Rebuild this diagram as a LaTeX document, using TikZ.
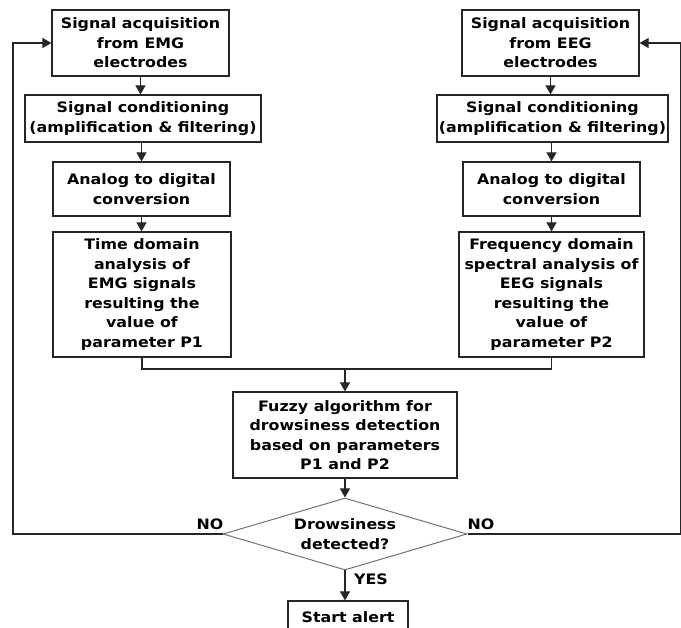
\documentclass[tikz,border=0pt]{standalone}
\usepackage{fontspec}
\setmainfont{DejaVu Sans}[FakeStretch=1.1]
\usetikzlibrary{shapes.geometric,arrows.meta}
\begin{document}
\begin{tikzpicture}[x=1pt,y=-1pt,
  every node/.style={font=\bfseries\fontsize{14.4}{19.5}\selectfont},
  box/.style={draw=black!85,line width=1.2pt,rectangle,align=center,inner sep=0pt},
  dec/.style={draw=black!55,line width=1pt,diamond,aspect=3.4,align=center,inner sep=0pt},
  lbl/.style={inner sep=0pt},
  link/.style={draw=black!85,line width=1.2pt},
  arr/.style={link,-{Triangle[length=9pt,width=10pt]}}]
\useasboundingbox (0,0) rectangle (681,628);
\node[box,minimum width=177pt,minimum height=66pt] (l1) at (140.5,43) {Signal acquisition\\from EMG\\electrodes};
\node[box,minimum width=236pt,minimum height=47pt] (l2) at (143,118.5) {Signal conditioning\\(amplification \& filtering)};
\node[box,minimum width=177pt,minimum height=54pt] (l3) at (141.5,189) {Analog to digital\\conversion};
\node[box,minimum width=178pt,minimum height=125pt] (l4) at (142,294.5) {Time domain\\analysis of\\EMG signals\\resulting the\\value of\\parameter P1};
\node[box,minimum width=177pt,minimum height=66pt] (r1) at (550.5,43) {Signal acquisition\\from EEG\\electrodes};
\node[box,minimum width=231pt,minimum height=47pt] (r2) at (552.5,118.5) {Signal conditioning\\(amplification \& filtering)};
\node[box,minimum width=177pt,minimum height=54pt] (r3) at (551.5,189) {Analog to digital\\conversion};
\node[box,minimum width=185pt,minimum height=125pt] (r4) at (551.5,294.5) {Frequency domain\\spectral analysis of\\EEG signals\\resulting the\\value of\\parameter P2};
\node[box,minimum width=224pt,minimum height=86pt] (fz) at (345,435) {Fuzzy algorithm for\\drowsiness detection\\based on parameters\\P1 and P2};
\node[dec,minimum width=244pt,minimum height=72pt] (dd) at (345,534) {Drowsiness\\detected?};
\node[box,minimum width=120pt,minimum height=32pt] (sa) at (348,617) {Start alert};
\node[lbl] (no1) at (210,524) {NO};
\node[lbl] (no2) at (481,524) {NO};
\node[lbl] (yes) at (371,579) {YES};
\coordinate (m) at (345,369);
\coordinate (fl) at (13,534);
\coordinate (fr) at (680.4,534);
\draw[arr] (l1.south) -- (l1.south |- l2.north);
\draw[arr] (l2.south -| l3.north) -- (l3.north);
\draw[arr] (l3.south) -- (l3.south |- l4.north);
\draw[arr] (r1.south) -- (r1.south |- r2.north);
\draw[arr] (r2.south -| r3.north) -- (r3.north);
\draw[arr] (r3.south) -- (r3.south |- r4.north);
\draw[link] (l4.south) |- (m) -| (r4.south);
\draw[arr] (m) -- (fz.north);
\draw[arr] (fz.south) -- (dd.north);
\draw[arr] (dd.south) -- (dd.south |- sa.north);
\draw[arr] (dd.west) -- (fl) |- (l1.west);
\draw[arr] (dd.east) -- (fr) |- (r1.east);
\end{tikzpicture}
\end{document}
